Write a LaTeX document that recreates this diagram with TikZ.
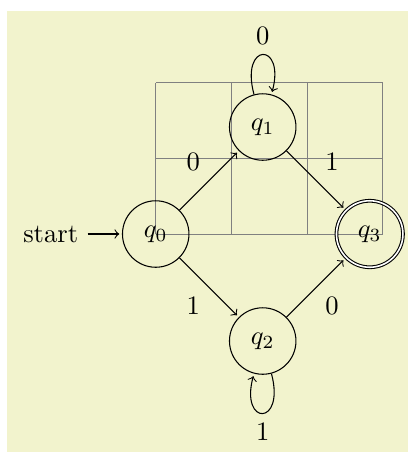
\documentclass[tikz,border=0pt]{standalone}
\usetikzlibrary{automata}
\definecolor{bgyellow}{RGB}{242,243,205}
\begin{document}
\begin{tikzpicture}[shorten >=1pt,node distance=2cm,auto]
  \useasboundingbox (-2.058,-2.881) rectangle (3.335,3.093);
  \fill[white] (-2.058,-2.881) rectangle (3.335,3.093);
  \fill[bgyellow] (-1.965,-2.881) rectangle (3.335,2.941);
  \draw[help lines] (0,0) grid (3,2);
  \node[state,initial] (q_0) at (0,0) {$q_0$};
  \node[state] (q_1) at (1.4142,1.4142) {$q_1$};
  \node[state] (q_2) at (1.4142,-1.4142) {$q_2$};
  \node[state,accepting] (q_3) at (2.8284,0) {$q_3$};
  \path[->] (q_0) edge node {0} (q_1)
                  edge node [swap] {1} (q_2)
            (q_1) edge node {1} (q_3)
                  edge [loop above] node {0} ()
            (q_2) edge node [swap] {0} (q_3)
                  edge [loop below] node {1} ();
\end{tikzpicture}
\end{document}
